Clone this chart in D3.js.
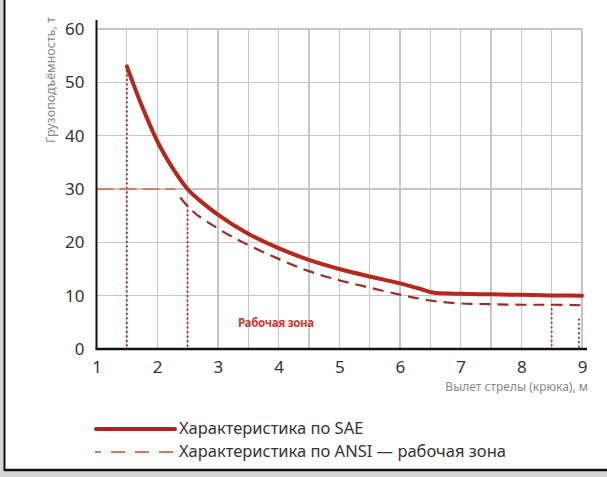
<!DOCTYPE html>
<html>
<head>
<meta charset="utf-8">
<script src="https://cdn.jsdelivr.net/npm/d3@7"></script>
<style>
  body { margin: 0; background: #d6d6d6; }
  svg { display: block; font-family: "Noto Sans", "Open Sans", sans-serif; }
  .grid line { stroke: #c6c6c6; stroke-width: 1.3px; shape-rendering: crispEdges; }
</style>
</head>
<body>
<div id="chart"></div>
<script>
// chart size
var width = 607, height = 477;

// SAE curve (solid): boom reach, m / capacity, t
var saeX = [1.5, 1.75, 2, 2.25, 2.5, 2.75, 3, 3.5, 4, 4.5, 5, 5.5, 6, 6.3, 6.6, 7, 7.5, 8, 8.5, 9];
var saeY = [53, 45.5, 39, 34, 30, 27.4, 25.2, 21.6, 18.9, 16.7, 15, 13.6, 12.3, 11.4, 10.5, 10.35, 10.25, 10.15, 10.05, 10];

// ANSI working zone (dashed): flat part and curve part
var ansiFlatX = [1, 2.3];
var ansiFlatY = [30, 30];
var ansiX = [2.38, 2.5, 3, 3.5, 4, 4.5, 5, 5.5, 6, 6.5, 6.9, 7.5, 8, 8.5, 9];
var ansiY = [28.4, 26.8, 22.6, 19.5, 16.9, 14.6, 12.9, 11.5, 10.2, 9.1, 8.6, 8.4, 8.3, 8.3, 8.2];

// vertical dotted markers
var dotX = [1.5, 2.5, 8.5, 8.95];
var dotTop = [53, 26.8, 8.3, 5.5];

var yTicks = [0, 10, 20, 30, 40, 50, 60];
var xTicks = [1, 2, 3, 4, 5, 6, 7, 8, 9];
var gridX = [1.5, 2, 2.5, 3, 3.5, 4, 4.5, 5, 5.5, 6, 6.5, 7, 7.5, 8, 8.5, 9];

var legendLabels = ["Характеристика по SAE", "Характеристика по ANSI — рабочая зона"];

var svg = d3.select("#chart").append("svg")
    .attr("width", width)
    .attr("height", height);

// white panel with frame
svg.append("rect").attr("x", 4).attr("y", 0).attr("width", width - 4).attr("height", 470).attr("fill", "#fff");
svg.append("line").attr("x1", 4.5).attr("x2", 4.5).attr("y1", 0).attr("y2", 471)
    .attr("stroke", "#111").attr("stroke-width", 2);
svg.append("line").attr("x1", 4).attr("x2", width).attr("y1", 470).attr("y2", 470)
    .attr("stroke", "#111").attr("stroke-width", 2.5);

var x = d3.scaleLinear().domain([1, 9]).range([96.5, 582]);
var y = d3.scaleLinear().domain([0, 60]).range([349, 29]);

// grid
var grid = svg.append("g").attr("class", "grid");
grid.selectAll(".gh").data(yTicks.slice(1)).enter().append("line")
    .attr("class", "gh")
    .attr("x1", x(1)).attr("x2", x(9))
    .attr("y1", function(d) { return y(d); }).attr("y2", function(d) { return y(d); });
grid.selectAll(".gv").data(gridX).enter().append("line")
    .attr("class", "gv")
    .attr("x1", function(d) { return x(d); }).attr("x2", function(d) { return x(d); })
    .attr("y1", y(60)).attr("y2", y(0));

// dotted markers
svg.append("g").selectAll(".dot").data(dotX).enter().append("line")
    .attr("class", "dot")
    .attr("x1", function(d) { return x(d); }).attr("x2", function(d) { return x(d); })
    .attr("y1", function(d, i) { return y(dotTop[i]); }).attr("y2", y(0) - 2)
    .attr("stroke", "#a8352b").attr("stroke-width", 2.2)
    .attr("stroke-linecap", "round")
    .attr("stroke-dasharray", "0.1,4.4");

var line = d3.line()
    .x(function(d) { return x(d[0]); })
    .y(function(d) { return y(d[1]); })
    .curve(d3.curveMonotoneX);

// ANSI flat part (lighter)
svg.append("path")
    .datum(d3.zip(ansiFlatX, ansiFlatY))
    .attr("d", line)
    .attr("fill", "none").attr("stroke", "#d47d66").attr("stroke-width", 2.2)
    .attr("stroke-dasharray", "17,6");

// ANSI curve part
svg.append("path")
    .datum(d3.zip(ansiX, ansiY))
    .attr("d", line)
    .attr("fill", "none").attr("stroke", "#9e2a25").attr("stroke-width", 2.2)
    .attr("stroke-dasharray", "11,7");

// SAE solid
svg.append("path")
    .datum(d3.zip(saeX, saeY))
    .attr("d", line)
    .attr("fill", "none").attr("stroke", "#b5281c").attr("stroke-width", 4)
    .attr("stroke-linejoin", "round").attr("stroke-linecap", "round");

// axes
var xAxis = d3.axisBottom(x).tickValues(xTicks).tickSize(0).tickPadding(12);
var xg = svg.append("g").attr("transform", "translate(0," + y(0) + ")").call(xAxis);
xg.select(".domain").remove();
xg.selectAll("text").attr("font-size", 17).attr("fill", "#333").attr("font-family", "Noto Sans");
svg.append("line").attr("x1", x(1) - 1).attr("x2", 587).attr("y1", y(0)).attr("y2", y(0))
    .attr("stroke", "#111").attr("stroke-width", 2.5);

var yAxis = d3.axisLeft(y).tickValues(yTicks).tickSize(0).tickPadding(12);
var yg = svg.append("g").attr("transform", "translate(" + x(1) + ",0)").call(yAxis);
yg.select(".domain").remove();
yg.selectAll("text").attr("font-size", 17).attr("fill", "#333").attr("font-family", "Noto Sans");
svg.append("line").attr("x1", x(1)).attr("x2", x(1)).attr("y1", 20).attr("y2", y(0))
    .attr("stroke", "#111").attr("stroke-width", 2);

// axis titles
svg.append("text")
    .attr("transform", "translate(55,80) rotate(-90)")
    .attr("text-anchor", "middle")
    .attr("font-size", 12.5).attr("fill", "#888")
    .text("Грузоподъёмность, т");
svg.append("text")
    .attr("x", 588).attr("y", 391)
    .attr("text-anchor", "end")
    .attr("font-size", 12).attr("fill", "#888")
    .text("Вылет стрелы (крюка), м");

// zone label
svg.append("text")
    .attr("x", 238).attr("y", 327)
    .attr("font-size", 11.5).attr("font-weight", "bold").attr("fill", "#cc3a2c")
    .attr("letter-spacing", -0.3)
    .text("Рабочая зона");

// legend
var leg = svg.append("g");
leg.append("line").attr("x1", 96).attr("x2", 175).attr("y1", 429).attr("y2", 429)
    .attr("stroke", "#a8261d").attr("stroke-width", 4).attr("stroke-linecap", "round");
leg.append("line").attr("x1", 95).attr("x2", 176).attr("y1", 452).attr("y2", 452)
    .attr("stroke", "#d9745a").attr("stroke-width", 2)
    .attr("stroke-dasharray", "6,10,14,10,14,10,14,8");
leg.selectAll("text").data(legendLabels).enter().append("text")
    .attr("x", 179).attr("y", function(d, i) { return 434 + i * 23; })
    .attr("font-size", 16.5).attr("fill", "#333")
    .text(function(d) { return d; });
</script>
</body>
</html>
